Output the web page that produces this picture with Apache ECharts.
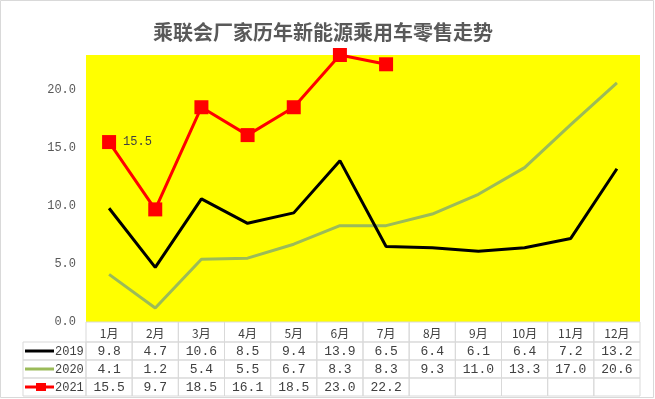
<!DOCTYPE html>
<html><head><meta charset="utf-8">
<script src="https://cdn.jsdelivr.net/npm/echarts@6/dist/echarts.min.js"></script>
<style>html,body{margin:0;padding:0;background:#fff}#c{width:655px;height:399px}</style>
</head><body><div id="c"></div>
<script>
const months = ['1月','2月','3月','4月','5月','6月','7月','8月','9月','10月','11月','12月'];
const seriesNames = ['2019','2020','2021'];
const v2019 = [9.8,4.7,10.6,8.5,9.4,13.9,6.5,6.4,6.1,6.4,7.2,13.2];
const v2020 = [4.1,1.2,5.4,5.5,6.7,8.3,8.3,9.3,11.0,13.3,17.0,20.6];
const v2021 = [15.5,9.7,18.5,16.1,18.5,23.0,22.2];
const colors = ['#000000','#9BBB59','#FF0000'];
const FONT = '"Noto Sans CJK SC", "Noto Sans", sans-serif';
const NUMFONT = '"Liberation Mono", "DejaVu Sans Mono", monospace';

const chart = echarts.init(document.getElementById('c'), null, {renderer:'canvas'});
const allSeries = [v2019, v2020, v2021];

const option = {
  animation: false,
  backgroundColor: '#fff',
  title: {
    text: '乘联会厂家历年新能源乘用车零售走势',
    left: 318, top: 17, textAlign: 'center',
    textStyle: {fontFamily: FONT, fontSize: 20, fontWeight: 'bold', color: '#595959'}
  },
  grid: {left: 86, right: 15, top: 55, bottom: 77, show: true, backgroundColor: '#FFFF00', borderWidth: 0},
  xAxis: {
    type: 'category', data: months, boundaryGap: true,
    axisLine: {show: false}, axisTick: {show: false}, axisLabel: {show: false}, splitLine: {show: false}
  },
  yAxis: {
    type: 'value', min: 0, max: 23, interval: 5,
    axisLine: {show: false}, axisTick: {show: false}, splitLine: {show: false},
    axisLabel: {
      margin: 10, color: '#595959', fontFamily: NUMFONT, fontSize: 12,
      formatter: v => (v % 5 === 0 ? v.toFixed(1) : '')
    }
  },
  series: [
    {name: seriesNames[0], type: 'line', data: v2019, symbol: 'none', lineStyle: {color: colors[0], width: 3}, itemStyle:{color: colors[0]}, z: 2},
    {name: seriesNames[1], type: 'line', data: v2020, symbol: 'none', lineStyle: {color: colors[1], width: 3}, itemStyle:{color: colors[1]}, z: 1},
    {name: seriesNames[2], type: 'line', symbol: 'rect', symbolSize: 14,
      lineStyle: {color: colors[2], width: 3}, itemStyle: {color: colors[2]}, z: 3,
      data: v2021.map((v, i) => i === 0 ? {value: v, label: {show: true, position: 'right', distance: 7, color: '#404040', fontFamily: NUMFONT, fontSize: 12, formatter: p => p.value.toFixed(1)}} : v)
    }
  ]
};
chart.setOption(option);

// Build data table below the plot, positioned via the axes
const xc = months.map((m, i) => chart.convertToPixel({xAxisIndex: 0}, i));
const bw = xc[1] - xc[0];
const tableTop = chart.convertToPixel({yAxisIndex: 0}, 0);
const leftEdge = xc[0] - bw / 2;
const headH = 20, rowH = 18;
const labelLeft = 23;
const g = [];
const stroke = '#D9D9D9';
g.push({type: 'rect', shape: {x: 0.5, y: 0.5, width: 653, height: 397}, style: {fill: 'none', stroke: '#D9D9D9', lineWidth: 1}, silent: true});
months.forEach((m, i) => {
  g.push({type: 'rect', shape: {x: xc[i] - bw/2, y: tableTop, width: bw, height: headH}, style: {fill: 'none', stroke, lineWidth: 1}, silent: true});
  g.push({type: 'text', x: xc[i], y: tableTop + headH/2 + 1, style: {text: m, fill: '#404040', font: '12px ' + FONT, align: 'center', verticalAlign: 'middle'}, silent: true});
});
allSeries.forEach((vals, r) => {
  const y0 = tableTop + headH + r * rowH;
  g.push({type: 'rect', shape: {x: labelLeft, y: y0, width: leftEdge - labelLeft, height: rowH}, style: {fill: 'none', stroke, lineWidth: 1}, silent: true});
  const cy = y0 + rowH/2;
  g.push({type: 'line', shape: {x1: labelLeft + 2, y1: cy, x2: labelLeft + 31, y2: cy}, style: {stroke: colors[r], lineWidth: 3}, silent: true});
  if (r === 2) g.push({type: 'rect', shape: {x: labelLeft + 13, y: cy - 4, width: 10, height: 8}, style: {fill: colors[r]}, silent: true});
  g.push({type: 'text', x: labelLeft + 32, y: cy + 1, style: {text: seriesNames[r], fill: '#404040', font: '12px ' + NUMFONT, align: 'left', verticalAlign: 'middle'}, silent: true});
  months.forEach((m, i) => {
    g.push({type: 'rect', shape: {x: xc[i] - bw/2, y: y0, width: bw, height: rowH}, style: {fill: 'none', stroke, lineWidth: 1}, silent: true});
    if (vals[i] !== undefined) {
      g.push({type: 'text', x: xc[i], y: cy + 1, style: {text: vals[i].toFixed(1), fill: '#404040', font: '13px ' + NUMFONT, align: 'center', verticalAlign: 'middle'}, silent: true});
    }
  });
});
chart.setOption({graphic: g});
</script>
</body></html>
